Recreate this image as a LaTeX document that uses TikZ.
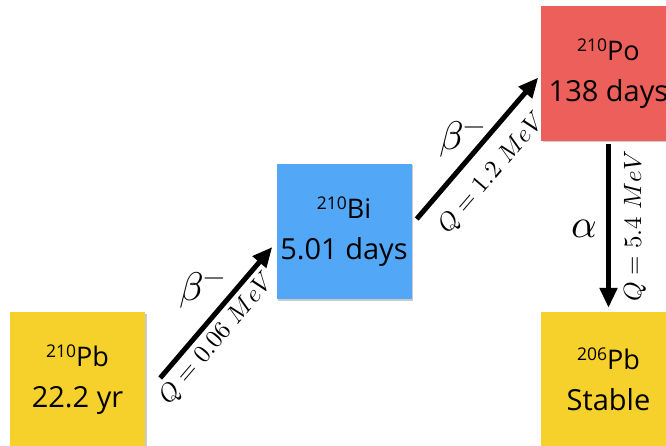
\documentclass[tikz,border=0pt]{standalone}
\usepackage{unicode-math}
\setmathfont{Latin Modern Math}
\setsansfont{Open Sans}
\usetikzlibrary{arrows.meta, shadows}
\definecolor{pbyellow}{HTML}{F6D02B}
\definecolor{biblue}{HTML}{52A8F7}
\definecolor{pored}{HTML}{EC5F5A}
\newcommand{\iso}[2]{{\fontsize{27}{41}\selectfont\raisebox{9pt}{\fontsize{17.5}{17.5}\selectfont #1}#2}}

\begin{document}
\begin{tikzpicture}[
  x=1pt, y=-1pt,
  >={Triangle[length=20pt, width=17pt]},
  decay/.style={->, line width=5pt},
  nuclide/.style={minimum width=135pt, minimum height=135pt, inner sep=0pt,
    align=center, font=\sffamily\fontsize{29}{41}\selectfont,
    drop shadow={shadow xshift=1.5pt, shadow yshift=-1.5pt, opacity=0.35, fill=black!60}},
  qlbl/.style={font=\fontsize{25}{30}\selectfont},
  mode/.style={font=\fontsize{40}{48}\selectfont},
]
\useasboundingbox (0,0) rectangle (666,446);

% ══════════════════════════════════════════════════════
% Nuclides
% ══════════════════════════════════════════════════════
\node[nuclide, fill=pbyellow] (pb210) at (77.5,379.5) {\iso{210}{Pb}\\22.2 yr};
\node[nuclide, fill=biblue]   (bi210) at (344,231.5)  {\iso{210}{Bi}\\5.01 days};
\node[nuclide, fill=pored]    (po210) at (608.5,73.5) {\iso{210}{Po}\\138 days};
\node[nuclide, fill=pbyellow] (pb206) at (608.5,379.5) {\iso{206}{Pb}\\Stable};

% ══════════════════════════════════════════════════════
% Decays
% ══════════════════════════════════════════════════════
% ── beta decay of Pb-210 ─────────────────────────────
\draw[decay] ([shift={(15pt,1.5pt)}]pb210.east) -- ([shift={(-4pt,-15.5pt)}]bi210.west)
  node[qlbl, pos=0.39, sloped, below, inner sep=4.5pt] (q1) {$Q = 0.06\ MeV$};
\node[mode] (beta1) at (203,290) {$\beta^-$};

% ── beta decay of Bi-210 ─────────────────────────────
\draw[decay] ([shift={(5pt,12.5pt)}]bi210.east) -- ([shift={(-2.5pt,-4pt)}]po210.west)
  node[qlbl, pos=0.45, sloped, below, inner sep=14pt] (q2) {$Q = 1.2\ MeV$};
\node[mode] (beta2) at (463,139) {$\beta^-$};

% ── alpha decay of Po-210 ────────────────────────────
\draw[decay, shorten <=3pt, shorten >=4pt] (po210.south) -- (pb206.north)
  node[qlbl, pos=0.5, rotate=90, anchor=north, inner sep=13pt] (q3) {$Q = 5.4\ MeV$};
\node[mode] (alpha) at (584.5,228.5) {$\alpha$};

\end{tikzpicture}
\end{document}
